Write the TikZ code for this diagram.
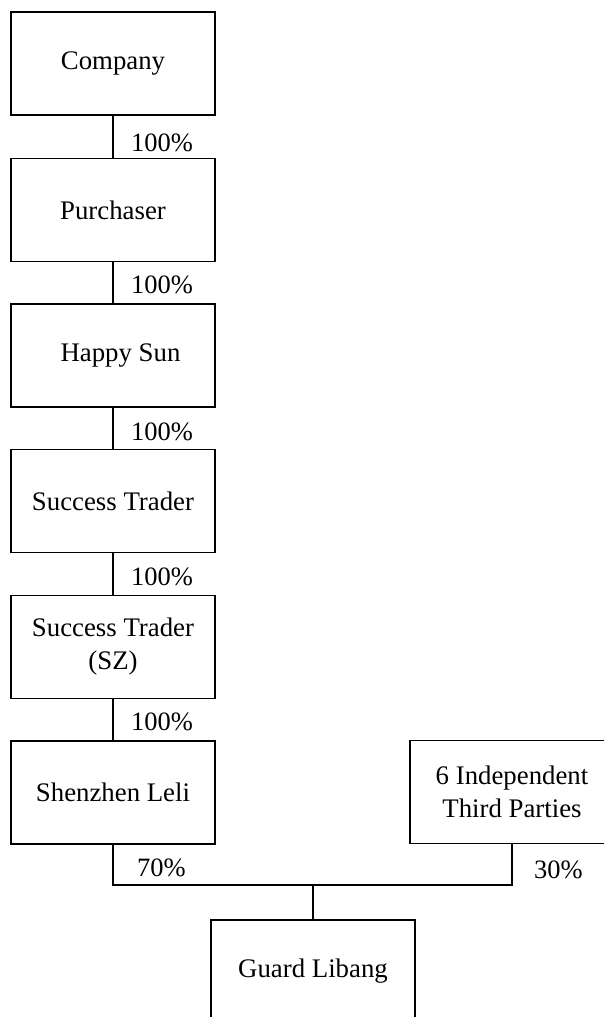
\documentclass[tikz,border=0pt]{standalone}
\usepackage{fontspec}
\setmainfont{Liberation Serif}
\begin{document}
\begin{tikzpicture}[x=1pt,y=-1pt,
  box/.style={draw,line width=1.2pt,minimum width=204pt,minimum height=103pt,inner sep=0pt,align=center,font=\fontsize{26.8}{33}\selectfont},
  pct/.style={anchor=west,inner sep=0pt,font=\fontsize{26.5}{33}\selectfont},
  conn/.style={line width=1.2pt}]
\useasboundingbox (0,0) rectangle (604,1017);
\clip (0,0) rectangle (604,1017);
\node[box] (company) at (113,63.5) {Company};
\node[box] (purchaser) at (113,210) {Purchaser};
\node[box] (happy) at (113,355.5) {\hspace{15pt}Happy Sun};
\node[box] (trader) at (113,501) {Success Trader};
\node[box] (sz) at (113,647) {Success Trader\\(SZ)};
\node[box] (leli) at (113,792.5) {Shenzhen Leli};
\node[box] (indep) at (512,792) {6 Independent\\Third Parties};
\node[box] (guard) at (313,971.5) {Guard Libang};
\draw[conn] (company) -- (purchaser);
\draw[conn] (purchaser) -- (happy);
\draw[conn] (happy) -- (trader);
\draw[conn] (trader) -- (sz);
\draw[conn] (sz) -- (leli);
\coordinate (jm) at (313,885);
\draw[conn] (leli.south) -- (leli.south |- jm) -- (indep.south |- jm) -- (indep.south);
\draw[conn] (jm) -- (guard.north);
\node[pct] (p1) at (131,143) {100\%};
\node[pct] (p2) at (131,285) {100\%};
\node[pct] (p3) at (131,432) {100\%};
\node[pct] (p4) at (131,577) {100\%};
\node[pct] (p5) at (131,722) {100\%};
\node[pct] (p6) at (137,868) {70\%};
\node[pct] (p7) at (534,870) {30\%};
\end{tikzpicture}
\end{document}
